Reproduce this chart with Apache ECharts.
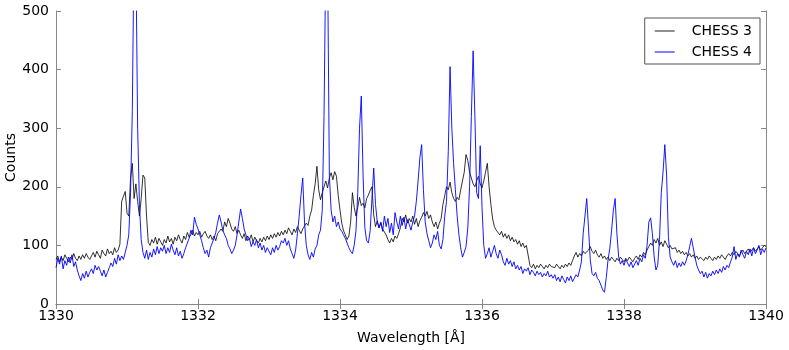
<!DOCTYPE html>
<html>
<head>
<meta charset="utf-8">
<script src="https://cdn.jsdelivr.net/npm/echarts@6/dist/echarts.min.js"></script>
<style>
  html, body { margin: 0; padding: 0; background: #fff; }
  #main { width: 789px; height: 350px; }
</style>
</head>
<body>
<div id="main"></div>
<script>
// wavelength grid: start and step in Angstrom
var waveStart = 1330;
var waveStep = 0.025;

// CHESS 3 counts, one row per 0.5 A
var chess3 = [
  76, 82, 72, 80, 74, 84, 78, 72, 80, 76, 86, 78, 74, 82, 76, 84, 78, 86, 80, 76,
  82, 88, 80, 90, 84, 78, 92, 86, 82, 94, 86, 90, 84, 96, 88, 92, 102, 175, 184, 192,
  155, 150, 215, 240, 180, 205, 175, 150, 180, 220, 215, 150, 105, 100, 110, 104, 114, 102, 112, 106,
  100, 110, 104, 116, 106, 112, 102, 114, 108, 118, 110, 104, 116, 110, 122, 114, 118, 126, 116, 122,
  118, 124, 114, 120, 124, 116, 112, 118, 110, 116, 108, 120, 118, 128, 124, 140, 132, 146, 138, 128,
  124, 132, 120, 126, 118, 112, 120, 108, 116, 110, 118, 106, 114, 108, 104, 112, 106, 114, 108, 116,
  110, 118, 112, 120, 114, 122, 116, 124, 118, 126, 120, 130, 124, 118, 128, 122, 132, 126, 120, 128,
  130, 138, 134, 150, 160, 185, 205, 235, 195, 178, 190, 200, 210, 198, 215, 224, 212, 226, 218, 185,
  160, 138, 125, 118, 110, 116, 140, 190, 165, 150, 165, 182, 168, 172, 164, 180, 186, 194, 200, 152,
  132, 142, 130, 138, 128, 126, 118, 110, 104, 112, 106, 116, 112, 120, 130, 146, 140, 152, 138, 146,
  140, 150, 136, 146, 132, 142, 148, 156, 150, 158, 146, 152, 140, 132, 140, 128, 138, 146, 170, 185,
  200, 195, 208, 190, 180, 175, 182, 178, 195, 210, 225, 255, 245, 225, 215, 205, 200, 210, 218, 205,
  198, 210, 225, 240, 200, 170, 145, 132, 126, 122, 118, 124, 114, 120, 112, 118, 108, 114, 106, 110,
  102, 108, 98, 104, 96, 100, 98, 66, 62, 68, 60, 66, 62, 68, 64, 60, 66, 62, 68, 64,
  66, 62, 68, 64, 60, 66, 62, 68, 64, 70, 66, 74, 82, 88, 80, 86, 82, 90, 86, 84,
  92, 98, 90, 86, 92, 84, 80, 86, 78, 82, 76, 80, 74, 80, 76, 72, 78, 74, 80, 76,
  72, 78, 74, 80, 76, 72, 78, 82, 76, 84, 80, 88, 84, 92, 98, 104, 100, 110, 104, 112,
  100, 106, 98, 108, 102, 96, 100, 94, 92, 96, 88, 92, 86, 90, 84, 88, 82, 86, 80, 84,
  78, 82, 76, 80, 78, 74, 80, 76, 82, 78, 74, 80, 76, 82, 78, 84, 80, 76, 82, 86,
  82, 88, 84, 90, 86, 82, 88, 92, 86, 90, 94, 88, 92, 96, 90, 94, 98, 92, 96, 100,
  98
];

// CHESS 4 counts, one row per 0.5 A
var chess4 = [
  62, 78, 68, 82, 60, 74, 66, 80, 70, 84, 64, 72, 58, 48, 40, 52, 44, 56, 46, 54,
  60, 52, 66, 58, 64, 56, 48, 58, 46, 54, 62, 70, 64, 78, 68, 84, 74, 82, 76, 88,
  100, 118, 190, 330, 620, 600, 300, 170, 110, 88, 78, 92, 76, 88, 80, 94, 84, 98, 86, 96,
  90, 100, 86, 96, 88, 102, 92, 84, 96, 82, 90, 78, 86, 96, 104, 112, 126, 118, 148, 136,
  128, 118, 108, 96, 86, 92, 80, 96, 104, 112, 122, 138, 152, 140, 126, 118, 112, 100, 94, 86,
  92, 100, 118, 140, 162, 146, 128, 118, 108, 112, 98, 106, 100, 110, 96, 104, 92, 100, 88, 96,
  90, 84, 96, 88, 100, 92, 98, 108, 104, 112, 100, 108, 94, 86, 78, 92, 120, 150, 185, 215,
  140, 100, 84, 76, 88, 80, 94, 100, 118, 126, 160, 320, 600, 590, 220, 160, 140, 150, 132, 140,
  128, 124, 118, 112, 104, 96, 90, 86, 100, 125, 190, 300, 355, 220, 130, 108, 104, 125, 180, 232,
  170, 140, 130, 140, 124, 150, 132, 146, 122, 138, 118, 156, 140, 128, 150, 134, 148, 128, 144, 136,
  126, 140, 150, 175, 210, 250, 272, 195, 140, 120, 108, 96, 104, 118, 110, 124, 100, 94, 110, 150,
  175, 260, 405, 300, 240, 195, 150, 118, 96, 80, 88, 98, 130, 200, 320, 432, 320, 190, 180, 270,
  165, 100, 78, 86, 96, 80, 90, 100, 86, 78, 92, 84, 72, 66, 78, 68, 74, 64, 72, 60,
  66, 58, 64, 52, 60, 56, 62, 50, 58, 54, 48, 56, 50, 54, 46, 52, 48, 56, 46, 50,
  44, 50, 40, 46, 38, 48, 42, 36, 46, 40, 48, 38, 44, 50, 46, 58, 72, 120, 150, 180,
  130, 75, 52, 48, 54, 44, 40, 32, 24, 20, 45, 75, 95, 125, 160, 180, 120, 80, 68, 74,
  66, 76, 70, 64, 72, 62, 68, 74, 66, 78, 72, 84, 78, 100, 140, 147, 120, 80, 58, 66,
  110, 190, 225, 272, 220, 115, 80, 72, 66, 74, 62, 70, 64, 72, 66, 74, 84, 98, 112, 96,
  80, 66, 58, 52, 56, 46, 54, 44, 52, 48, 56, 50, 58, 52, 60, 54, 64, 58, 66, 62,
  72, 80, 98, 76, 86, 80, 92, 84, 78, 90, 84, 94, 82, 96, 86, 92, 100, 84, 94, 88,
  96
];

var xTicks = { min: 1330, max: 1340, interval: 2 };
var yTicks = { min: 0, max: 500, interval: 100 };

function toPairs(values) {
  return values.map(function (v, i) {
    return [+(waveStart + i * waveStep).toFixed(3), v];
  });
}

var myChart = echarts.init(document.getElementById('main'));

var frame = { show: true, lineStyle: { color: '#888', width: 1 } };
var inTick = { show: true, inside: true, length: 5, lineStyle: { color: '#888' } };
var font = 'DejaVu Sans';

option = {
  animation: false,
  backgroundColor: '#fff',
  grid: { left: 56, right: 23, top: 11, bottom: 46, containLabel: false, outerBoundsMode: 'none' },
  legend: {
    orient: 'vertical',
    right: 29,
    top: 18,
    width: 113,
    itemWidth: 20,
    itemHeight: 2,
    itemGap: 7,
    padding: [6, 8, 5, 10],
    borderColor: '#555',
    borderWidth: 1,
    borderRadius: 0,
    backgroundColor: '#fff',
    textStyle: { fontFamily: font, fontSize: 14, color: '#000', padding: [0, 0, 0, 12] },
    data: [
      { name: 'CHESS 3', icon: 'rect', itemStyle: { color: '#909090' } },
      { name: 'CHESS 4', icon: 'rect', itemStyle: { color: '#7f7fff' } }
    ]
  },
  xAxis: [
    {
      type: 'value', min: xTicks.min, max: xTicks.max, interval: xTicks.interval,
      name: 'Wavelength [Å]', nameLocation: 'middle', nameGap: 27,
      nameTextStyle: { fontFamily: font, fontSize: 14, color: '#000' },
      axisLine: frame, axisTick: inTick, splitLine: { show: false },
      axisLabel: {
        fontFamily: font, fontSize: 14, color: '#000', margin: 5,
        formatter: function (v) { return String(v); }
      }
    },
    {
      type: 'value', position: 'top', min: xTicks.min, max: xTicks.max, interval: xTicks.interval,
      axisLine: frame, axisTick: inTick, splitLine: { show: false },
      axisLabel: { show: false }
    }
  ],
  yAxis: [
    {
      type: 'value', min: yTicks.min, max: yTicks.max, interval: yTicks.interval,
      name: 'Counts', nameLocation: 'middle', nameGap: 38, nameMoveOverlap: false,
      nameTextStyle: { fontFamily: font, fontSize: 14, color: '#000' },
      axisLine: frame, axisTick: inTick, splitLine: { show: false },
      axisLabel: { fontFamily: font, fontSize: 14, color: '#000', margin: 7 }
    },
    {
      type: 'value', position: 'right', min: yTicks.min, max: yTicks.max, interval: yTicks.interval,
      axisLine: frame, axisTick: inTick, splitLine: { show: false },
      axisLabel: { show: false }
    }
  ],
  series: [
    {
      name: 'CHESS 3', type: 'line', data: toPairs(chess3),
      showSymbol: false, symbol: 'none', clip: true,
      lineStyle: { color: '#000', width: 1, opacity: 0.8 },
      itemStyle: { color: '#909090' }
    },
    {
      name: 'CHESS 4', type: 'line', data: toPairs(chess4),
      showSymbol: false, symbol: 'none', clip: true,
      lineStyle: { color: '#0000ff', width: 1, opacity: 0.9 },
      itemStyle: { color: '#7f7fff' }
    }
  ]
};

myChart.setOption(option);
window.onresize = myChart.resize;
</script>
</body>
</html>
